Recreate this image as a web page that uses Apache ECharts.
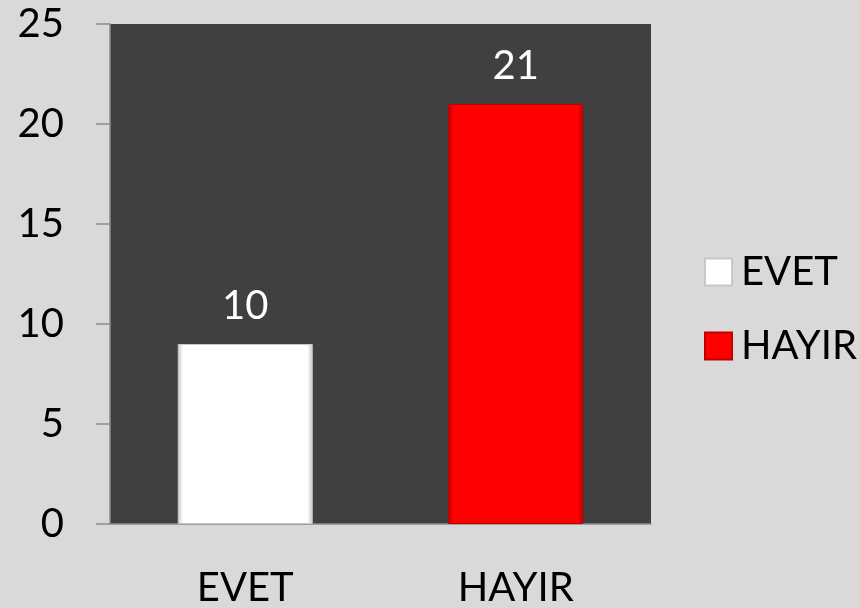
<!DOCTYPE html>
<html>
<head>
<meta charset="utf-8">
<style>
  html, body { margin: 0; padding: 0; background: #d9d9d9; }
  #chart { width: 860px; height: 608px; }
</style>
<script src="https://cdn.jsdelivr.net/npm/echarts@6/dist/echarts.min.js"></script>
</head>
<body>
<div id="chart"></div>
<script>
const categories = ['EVET', 'HAYIR'];
const seriesNames = ['EVET', 'HAYIR'];
// bar heights as drawn, and the labels printed above them
const evetValues = [9, '-'];
const hayirValues = ['-', 21];
const barLabels = { EVET: '10', HAYIR: '21' };
const yTicks = [0, 5, 10, 15, 20, 25];

const font = 'Lato, "Open Sans", sans-serif';
const chart = echarts.init(document.getElementById('chart'), null, { renderer: 'canvas' });

function bevel(main, edge) {
  return {
    color: {
      type: 'linear', x: 0, y: 0, x2: 1, y2: 0,
      colorStops: [
        { offset: 0, color: edge },
        { offset: 0.04, color: main },
        { offset: 0.96, color: main },
        { offset: 1, color: edge },
      ],
    },
    borderColor: edge,
    borderWidth: 1,
  };
}

function barLabel() {
  return {
    show: true, position: 'top', distance: 18,
    color: '#fff', fontSize: 40, fontFamily: font,
    formatter: (p) => barLabels[p.name],
  };
}

chart.setOption({
  backgroundColor: '#d9d9d9',
  textStyle: { fontFamily: font },
  animation: false,
  grid: {
    left: 110, right: 209, top: 24, bottom: 83,
    show: true, backgroundColor: '#404040', borderWidth: 0,
  },
  legend: {
    orient: 'vertical',
    left: 699,
    top: 247,
    itemWidth: 27,
    itemHeight: 27,
    itemGap: 34,
    icon: 'rect',
    data: seriesNames,
    textStyle: { fontFamily: font, fontSize: 40, color: '#000', padding: [0, 0, 0, 4] },
  },
  xAxis: {
    type: 'category',
    data: categories,
    axisLine: { lineStyle: { color: '#8c8c8c', width: 1.5 } },
    axisTick: { length: 16, lineStyle: { color: '#8c8c8c', width: 1.5 } },
    axisLabel: { color: '#000', fontSize: 40, fontFamily: font, margin: 44 },
  },
  yAxis: {
    type: 'value',
    min: yTicks[0],
    max: yTicks[yTicks.length - 1],
    interval: 5,
    splitLine: { show: false },
    axisLine: { show: true, lineStyle: { color: '#8c8c8c', width: 1.5 } },
    axisTick: { show: true, length: 14, lineStyle: { color: '#8c8c8c', width: 1.5 } },
    axisLabel: { color: '#000', fontSize: 40, fontFamily: font, margin: 46 },
  },
  series: [
    {
      name: 'EVET',
      type: 'bar',
      data: evetValues,
      barWidth: 135,
      barGap: '-100%',
      itemStyle: bevel('#ffffff', '#c8c8c8'),
      label: barLabel(),
    },
    {
      name: 'HAYIR',
      type: 'bar',
      data: hayirValues,
      barWidth: 135,
      barGap: '-100%',
      itemStyle: bevel('#ff0000', '#c00000'),
      label: barLabel(),
    },
  ],
});
</script>
</body>
</html>
